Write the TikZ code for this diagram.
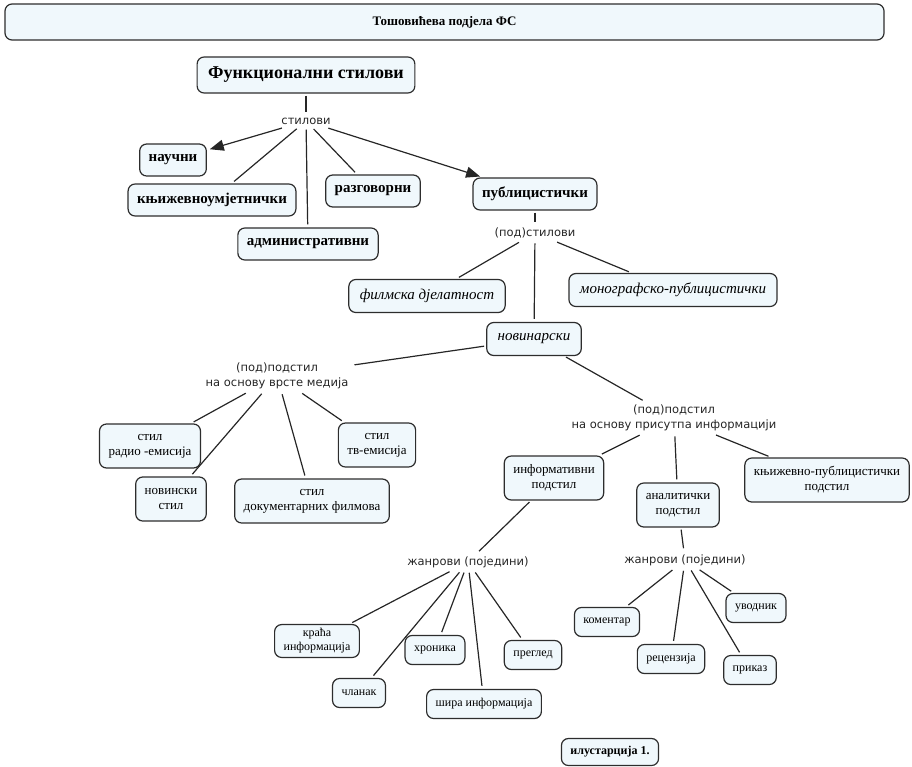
\documentclass[tikz,border=0pt]{standalone}
\usepackage{fontspec}
\setmainfont{Liberation Serif}
\newfontfamily\labelfont{DejaVu Sans}
\usetikzlibrary{arrows.meta}
\definecolor{boxfill}{RGB}{240,248,252}
\definecolor{boxline}{RGB}{45,45,45}

\begin{document}
\begin{tikzpicture}[x=1pt, y=-1pt,
    box/.style={draw=boxline, fill=boxfill, line width=1.2pt, rounded corners=7pt, align=center, inner xsep=9pt, inner ysep=4pt},
    titlebox/.style={box, font=\fontsize{13}{15}\selectfont\bfseries, minimum width=879pt, minimum height=36pt},
    topbox/.style={box, font=\fontsize{18}{20}\selectfont\bfseries, inner xsep=11pt, minimum height=36pt},
    mainbox/.style={box, font=\fontsize{15}{17}\selectfont\bfseries, minimum height=32pt},
    subbox/.style={box, font=\fontsize{15}{17}\selectfont\itshape, inner xsep=11pt, minimum height=33pt},
    midbox/.style={box, font=\fontsize{13}{15}\selectfont, minimum height=44pt},
    leafbox/.style={box, font=\fontsize{12}{14}\selectfont, minimum height=29pt},
    linklabel/.style={font=\labelfont\fontsize{11.5}{15}\selectfont, text=black!85, align=center, inner sep=3pt},
    link/.style={draw=black!85, line width=1.2pt, shorten <=2pt, shorten >=3pt},
    arrow/.style={link, -{Triangle[length=14pt, width=11pt]}}
]
\useasboundingbox (0,0) rectangle (912,766);

% Title
\node[titlebox] (title) at (444.5,22) {Тошовићева подјела ФС};

% Functional styles
\node[topbox] (fs) at (306,75) {Функционални стилови};
\node[linklabel] (stil) at (306,121) {стилови};
\node[mainbox] (nauc) at (173,160) {научни};
\node[mainbox] (knjiz) at (212,200) {књижевноумјетнички};
\node[mainbox] (admin) at (308,244) {административни};
\node[mainbox] (razg) at (373,191) {разговорни};
\node[mainbox] (publ) at (535,194) {публицистички};

% Substyles
\node[linklabel] (podstil) at (535,233) {(под)стилови};
\node[subbox] (film) at (427,296) {филмска дјелатност};
\node[subbox] (monog) at (673,290) {монографско-публицистички};
\node[subbox] (novin) at (534,339) {новинарски};

% Media
\node[linklabel] (medija) at (277,376) {(под)подстил\\на основу врсте медија};
\node[midbox] (radio) at (150,446) {стил\\радио -емисија};
\node[midbox] (tv) at (377,445) {стил\\тв-емисија};
\node[midbox] (novinski) at (171,499) {новински\\стил};
\node[midbox] (dokum) at (312,501) {стил\\документарних филмова};

% Access to information
\node[linklabel] (pristup) at (674,418) {(под)подстил\\на основу присутпа информацији};
\node[midbox] (inform) at (554,478) {информативни\\подстил};
\node[midbox] (analit) at (678,505) {аналитички\\подстил};
\node[midbox] (knjpub) at (827,480) {књижевно-публицистички\\подстил};

% Genres
\node[linklabel] (zanrI) at (468,562) {жанрови (поједини)};
\node[linklabel] (zanrA) at (685,560) {жанрови (поједини)};
\node[leafbox] (kraca) at (317,641) {краћа\\информација};
\node[leafbox] (clanak) at (359,693) {чланак};
\node[leafbox] (hronika) at (435,650) {хроника};
\node[leafbox] (sira) at (484,704) {шира информација};
\node[leafbox] (pregled) at (533,655) {преглед};
\node[leafbox] (koment) at (607,622) {коментар};
\node[leafbox] (recenz) at (671,659) {рецензија};
\node[leafbox] (prikaz) at (750,670) {приказ};
\node[leafbox] (uvodnik) at (756,608) {уводник};

\node[box, font=\fontsize{12}{14}\selectfont\bfseries, minimum height=27pt] (ilustr) at (610,752) {илустарција 1.};

% Links
\draw[link] (fs) -- (stil);
\draw[arrow] (stil) -- (nauc);
\draw[link] (stil) -- (knjiz);
\draw[link] (stil) -- (admin);
\draw[link] (stil) -- (razg);
\draw[arrow] (stil) -- (publ);
\draw[link] (publ) -- (podstil);
\draw[link] (podstil) -- (film);
\draw[link] (podstil) -- (novin);
\draw[link] (podstil) -- (monog);
\draw[link] (novin) -- (medija);
\draw[link] (novin) -- (pristup);
\draw[link] (medija) -- (radio);
\draw[link] (medija) -- (novinski);
\draw[link] (medija) -- (dokum);
\draw[link] (medija) -- (tv);
\draw[link] (pristup) -- (inform);
\draw[link] (pristup) -- (analit);
\draw[link] (pristup) -- (knjpub);
\draw[link] (inform) -- (zanrI);
\draw[link] (analit) -- (zanrA);
\draw[link] (zanrI) -- (kraca);
\draw[link] (zanrI) -- (clanak);
\draw[link] (zanrI) -- (hronika);
\draw[link] (zanrI) -- (sira);
\draw[link] (zanrI) -- (pregled);
\draw[link] (zanrA) -- (koment);
\draw[link] (zanrA) -- (recenz);
\draw[link] (zanrA) -- (prikaz);
\draw[link] (zanrA) -- (uvodnik);

\end{tikzpicture}
\end{document}
